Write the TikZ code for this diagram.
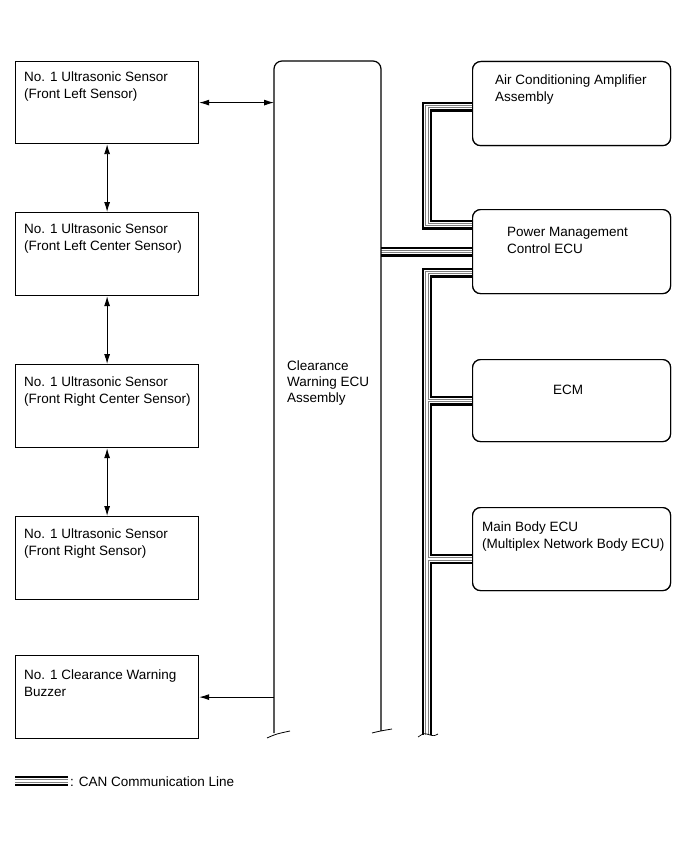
\documentclass[tikz,border=0pt]{standalone}
\usepackage{fontspec}
\setmainfont{Liberation Sans}
\usetikzlibrary{arrows.meta}
\begin{document}
\begin{tikzpicture}[x=1pt,y=-1pt,
  box/.style={draw, line width=1.2pt, fill=white, inner sep=0pt, anchor=north west},
  rbox/.style={box, rounded corners=8pt},
  lbl/.style={anchor=base west, inner sep=0pt, font=\fontsize{13.5}{17}\selectfont},
  tipA/.style={line width=0.9pt, -{Latex[length=10pt,width=6pt]}},
  tipB/.style={line width=0.9pt, {Latex[length=10pt,width=6pt]}-{Latex[length=10pt,width=6pt]}},
  canA/.style={line width=10pt, black, line join=miter, line cap=butt},
  canB/.style={line width=5.4pt, white, line join=miter, line cap=butt},
  canC/.style={line width=3.4pt, black!50, line join=miter, line cap=butt},
  canD/.style={line width=1.6pt, white, line join=miter, line cap=butt}]
\useasboundingbox (0,0) rectangle (689,853);

% right-hand ECUs (named first so that lines can refer to them)
\node[rbox, minimum width=198, minimum height=84] (ac) at (472,61) {};
\node[rbox, minimum width=198, minimum height=84] (pm) at (472,209) {};
\node[rbox, minimum width=198, minimum height=82] (ecm) at (472,359) {};
\node[rbox, minimum width=198, minimum height=83] (mb) at (472,507) {};

% clearance warning ECU outline (open at the bottom)
\node[inner sep=0pt, minimum width=107, minimum height=674, anchor=north west] (ecu) at (274,61) {};
\coordinate (busend) at (427,735);

% CAN lines, drawn in layers
\foreach \st in {canA,canB,canC,canD}{
  \draw[\st] ([yshift=-3pt]ac.west) -- ++(-45,0) |- ([yshift=27pt]pm.west);
  \draw[\st] (ecu.east |- pm.west) -- (pm.west);
  \draw[\st] ([yshift=-21pt]pm.west) -| (busend);
  \draw[\st] (ecm.west) -- (ecm.west -| busend);
  \draw[\st] ([yshift=-10pt]mb.west) -- ([yshift=-10pt]mb.west -| busend);
}
\draw[line width=0.7pt] (418,737) .. controls (424,733) .. (430,735) .. controls (434,736) .. (438,734);

% redraw right boxes over line ends
\node[rbox, minimum width=198, minimum height=84] at (472,61) {};
\node[rbox, minimum width=198, minimum height=84] at (472,209) {};
\node[rbox, minimum width=198, minimum height=82] at (472,359) {};
\node[rbox, minimum width=198, minimum height=83] at (472,507) {};

\draw[line width=1.2pt, rounded corners=8pt] (274,733) -- (274,61) -- (381,61) [sharp corners] -- (381,731);
\draw[line width=0.8pt] (267,738) .. controls (276,734) .. (290,731);
\draw[line width=0.8pt] (372,733) .. controls (380,731) .. (392,729);

% left-hand boxes
\node[box, minimum width=183, minimum height=82] (s1) at (15,61) {};
\node[box, minimum width=183, minimum height=83] (s2) at (15,212) {};
\node[box, minimum width=183, minimum height=83] (s3) at (15,364) {};
\node[box, minimum width=183, minimum height=83] (s4) at (15,516) {};
\node[box, minimum width=183, minimum height=83] (bz) at (15,655) {};

% texts
\node[lbl] at (24,82) {No. 1 Ultrasonic Sensor};
\node[lbl] at (24,99) {(Front Left Sensor)};
\node[lbl] at (24,233) {No. 1 Ultrasonic Sensor};
\node[lbl] at (24,250) {(Front Left Center Sensor)};
\node[lbl] at (24,386) {No. 1 Ultrasonic Sensor};
\node[lbl] at (24,403) {(Front Right Center Sensor)};
\node[lbl] at (24,538) {No. 1 Ultrasonic Sensor};
\node[lbl] at (24,555) {(Front Right Sensor)};
\node[lbl] at (24,679) {No. 1 Clearance Warning};
\node[lbl] at (24,696) {Buzzer};
\node[lbl] at (287,370) {Clearance};
\node[lbl] at (287,386) {Warning ECU};
\node[lbl] at (287,402) {Assembly};
\node[lbl] at (495,85) {Air Conditioning Amplifier};
\node[lbl] at (495,102) {Assembly};
\node[lbl] at (507,236) {Power Management};
\node[lbl] at (507,253) {Control ECU};
\node[lbl, anchor=base] at (568,394) {ECM};
\node[lbl] at (482,531) {Main Body ECU};
\node[lbl] at (482,548) {(Multiplex Network Body ECU)};

% arrows
\draw[tipB] (s1.east) -- (s1.east -| ecu.west);
\draw[tipB] (s1.south) -- (s2.north);
\draw[tipB] (s2.south) -- (s3.north);
\draw[tipB] (s3.south) -- (s4.north);
\draw[tipA] (bz.east -| ecu.west) -- (bz.east);

% legend
\coordinate (lg1) at (15,781);
\coordinate (lg2) at (68,781);
\foreach \st in {canA,canB,canC,canD}{ \draw[\st] (lg1) -- (lg2); }
\node[lbl] at (70,786) {: CAN Communication Line};
\end{tikzpicture}
\end{document}
